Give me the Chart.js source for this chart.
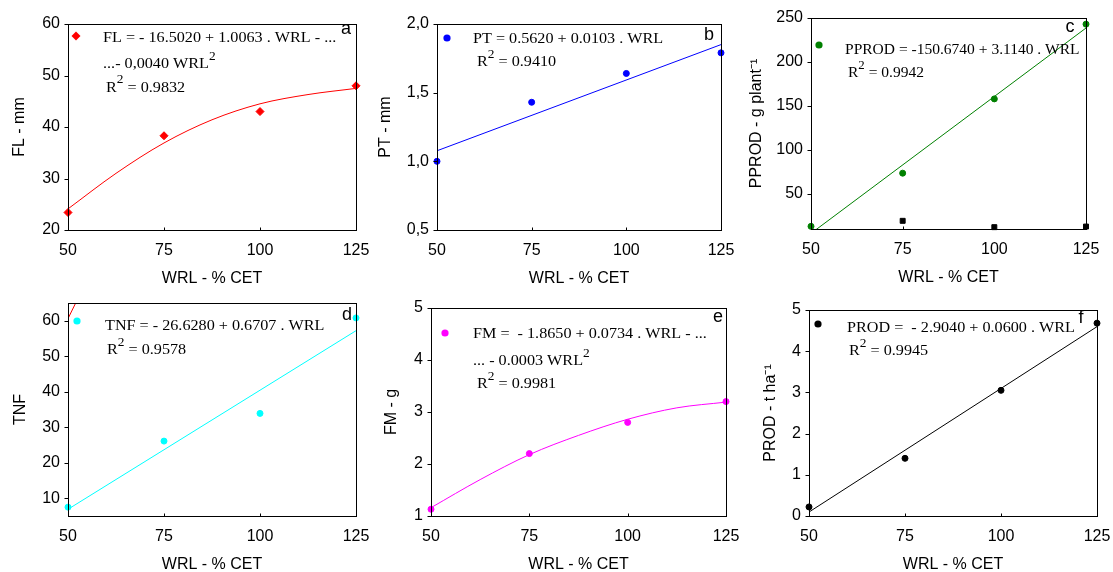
<!DOCTYPE html>
<html lang="en">
<head>
<meta charset="UTF-8">
<title>WRL response panels</title>
<script src="https://cdn.jsdelivr.net/npm/chart.js"></script>
<style>
  body { margin: 0; background: #fff; width: 1113px; height: 572px; overflow: hidden; position: relative; }
  .panel { position: absolute; }
</style>
</head>
<body>
<div class="panel" id="pa"><canvas></canvas></div>
<div class="panel" id="pb"><canvas></canvas></div>
<div class="panel" id="pc"><canvas></canvas></div>
<div class="panel" id="pd"><canvas></canvas></div>
<div class="panel" id="pe"><canvas></canvas></div>
<div class="panel" id="pf"><canvas></canvas></div>
<script>
// ---- data ----
const wrl = [50, 75, 100, 125];
const xTicks = [50, 75, 100, 125];
const lineX = [50, 125];
const curveX = [50, 62.5, 75, 87.5, 100, 112.5, 125];

const flValues = [23.4, 38.3, 43.0, 48.0];
const flCurve = [24.1, 31.0, 36.9, 41.4, 44.5, 46.3, 47.5];
const flTicks = [20, 30, 40, 50, 60];

const ptValues = [1.0, 1.43, 1.64, 1.79];
const ptLine = [1.077, 1.850];
const ptTicks = [0.5, 1.0, 1.5, 2.0];

const pprodValues = [13, 73.5, 158, 243];
const pprodOtherX = [75, 100, 125];
const pprodOther = [19.3, 12.1, 12.8];
const pprodLine = [5.0, 238.6];
const pprodTicks = [50, 100, 150, 200, 250];

const tnfValues = [7.5, 26.1, 33.9, 60.8];
const tnfLine = [6.9, 57.2];
const tnfStrayX = [50, 53];
const tnfStray = [60.6, 67.2];
const tnfTicks = [10, 20, 30, 40, 50, 60];

const fmValues = [1.13, 2.2, 2.8, 3.2];
const fmCurve = [1.16, 1.70, 2.18, 2.55, 2.86, 3.08, 3.19];
const fmTicks = [1, 2, 3, 4, 5];

const prodValues = [0.22, 1.4, 3.05, 4.68];
const prodLine = [0.096, 4.596];
const prodTicks = [0, 1, 2, 3, 4, 5];

// ---- helpers ----
const SANS = '"Liberation Sans", Arial, sans-serif';
const SERIF = '"Liberation Serif", "Times New Roman", serif';
const PAD_T = 20, PAD_R = 26, XH = 60;
const EQ_SIZE = 14.5;

const pts = (xs, ys) => xs.map((x, i) => ({ x: x, y: ys[i] }));

function points(xs, ys, color, style, r) {
  return { data: pts(xs, ys), backgroundColor: color, borderColor: color, borderWidth: 1,
           pointStyle: style || 'circle', pointRadius: r || 3, showLine: false, clip: false };
}
function trend(xs, ys, color, smooth) {
  return { data: pts(xs, ys), borderColor: color, borderWidth: 1, pointRadius: 0,
           showLine: true, fill: false, tension: smooth ? 0.4 : 0,
           cubicInterpolationMode: smooth ? 'monotone' : 'default' };
}

// equation text: Times, a bit wider than normal as in the figure
function drawRich(ctx, x, y, parts, stretch) {
  ctx.save();
  ctx.translate(x, y);
  ctx.scale(stretch, 1);
  let cx = 0;
  parts.forEach(p => {
    const sup = Array.isArray(p);
    const t = sup ? p[0] : p;
    ctx.font = (sup ? 12 : EQ_SIZE) + 'px ' + SERIF;
    ctx.fillText(t, cx, sup ? -8.5 : 0);
    cx += ctx.measureText(t).width;
  });
  ctx.restore();
}

function marker(ctx, m, x, y) {
  ctx.fillStyle = m.color;
  ctx.beginPath();
  if (m.style === 'rectRot') {
    const r = 4.5;
    ctx.moveTo(x, y - r); ctx.lineTo(x + r, y); ctx.lineTo(x, y + r); ctx.lineTo(x - r, y);
    ctx.closePath();
  } else {
    ctx.arc(x, y, 3.6, 0, Math.PI * 2);
  }
  ctx.fill();
}

function makeDecor(p) {
  return {
    id: 'decor',
    afterDatasetsDraw(chart) {
      const { ctx, chartArea: a, scales } = chart;
      const L = Math.round(a.left) + 0.5, T = Math.round(a.top) + 0.5;
      const R = Math.round(a.right) + 0.5, B = Math.round(a.bottom) + 0.5;
      ctx.save();
      ctx.strokeStyle = '#000';
      ctx.lineWidth = 1;
      ctx.strokeRect(L, T, R - L, B - T);
      // small tick marks: y outward, x inward
      ctx.beginPath();
      p.yTicks.forEach(v => {
        const y = Math.round(scales.y.getPixelForValue(v)) + 0.5;
        ctx.moveTo(L - 4, y); ctx.lineTo(L, y);
      });
      xTicks.forEach(v => {
        const x = Math.round(scales.x.getPixelForValue(v)) + 0.5;
        ctx.moveTo(x, B); ctx.lineTo(x, B - 3);
      });
      ctx.stroke();
      marker(ctx, p.marker, a.left + p.marker.dx, a.top + p.marker.dy);
      ctx.fillStyle = '#000';
      ctx.textAlign = 'left';
      ctx.textBaseline = 'alphabetic';
      p.lines.forEach(l => drawRich(ctx, a.left + l.dx, a.top + l.dy, l.parts, p.stretch || 1.115));
      ctx.font = '18px ' + SANS;
      ctx.textAlign = 'center';
      ctx.textBaseline = 'middle';
      ctx.fillText(p.letter.t, a.right - p.letter.dx, a.top + p.letter.dy);
      ctx.restore();
    }
  };
}

function makePanel(p) {
  const div = document.getElementById(p.id);
  div.style.left = (p.L - p.yw) + 'px';
  div.style.top = (p.T - PAD_T) + 'px';
  div.style.width = (p.R - p.L + p.yw + PAD_R) + 'px';
  div.style.height = (p.B - p.T + PAD_T + XH) + 'px';
  const tickFont = { family: SANS, size: 16 };
  new Chart(div.querySelector('canvas'), {
    type: 'scatter',
    data: { datasets: p.datasets },
    options: {
      responsive: true,
      maintainAspectRatio: false,
      animation: false,
      layout: { padding: { top: PAD_T, right: PAD_R, left: 0, bottom: 0 } },
      plugins: { legend: { display: false }, tooltip: { enabled: false } },
      scales: {
        x: {
          type: 'linear', min: 50, max: 125,
          grid: { display: false, drawTicks: false }, border: { display: false },
          afterBuildTicks: s => { s.ticks = xTicks.map(v => ({ value: v })); },
          afterFit: s => { s.height = XH; },
          ticks: { color: '#000', font: tickFont, padding: 11, maxRotation: 0, autoSkip: false },
          title: { display: true, text: 'WRL - % CET', color: '#000', font: tickFont, padding: { top: 0, bottom: 2 } }
        },
        y: {
          type: 'linear', min: p.yMin, max: p.yMax,
          grid: { display: false, drawTicks: false }, border: { display: false },
          afterBuildTicks: s => { s.ticks = p.yTicks.map(v => ({ value: v })); },
          afterFit: s => { s.width = p.yw; },
          ticks: { color: '#000', font: tickFont, padding: 8, autoSkip: false, callback: p.fmt || (v => v) },
          title: { display: true, text: p.yTitle, color: '#000', font: tickFont, padding: { top: 4, bottom: 0 } }
        }
      }
    },
    plugins: [makeDecor(p)]
  });
}

const R2 = v => ({ parts: ['R', ['2'], ' = ' + v] });

const panels = [
  { id: 'pa', L: 68, T: 24, R: 356, B: 230, yw: 62, yMin: 20, yMax: 60, yTicks: flTicks, yTitle: 'FL - mm',
    datasets: [points(wrl, flValues, '#ff0000', 'rectRot', 4), trend(curveX, flCurve, '#ff0000', true)],
    marker: { style: 'rectRot', color: '#ff0000', dx: 8, dy: 12 },
    lines: [ { dx: 35, dy: 18, parts: ['FL = - 16.5020 + 1.0063 . WRL - ...'] },
             { dx: 35, dy: 44, parts: ['...- 0,0040 WRL', ['2']] },
             Object.assign(R2('0.9832'), { dx: 38, dy: 67.5 }) ],
    letter: { t: 'a', dx: 10, dy: 5.5 } },
  { id: 'pb', L: 437, T: 24, R: 721, B: 230, yw: 65, yMin: 0.5, yMax: 2.0, yTicks: ptTicks, yTitle: 'PT - mm',
    fmt: v => v.toFixed(1).replace('.', ','),
    datasets: [points(wrl, ptValues, '#0000ff'), trend(lineX, ptLine, '#0000ff')],
    marker: { style: 'circle', color: '#0000ff', dx: 10, dy: 14 },
    lines: [ { dx: 36, dy: 19, parts: ['PT = 0.5620 + 0.0103 . WRL'] },
             Object.assign(R2('0.9410'), { dx: 40, dy: 42 }) ],
    letter: { t: 'b', dx: 12, dy: 11 } },
  { id: 'pc', L: 811, T: 18, R: 1086, B: 229, yw: 68, yMin: 10, yMax: 250, yTicks: pprodTicks, yTitle: 'PPROD - g plant⁻¹',
    stretch: 1.07,
    datasets: [points(wrl, pprodValues, '#008000'), points(pprodOtherX, pprodOther, '#000000', 'rect', 3.5),
               trend(lineX, pprodLine, '#008000')],
    marker: { style: 'circle', color: '#008000', dx: 8, dy: 27 },
    lines: [ { dx: 34, dy: 36, parts: ['PPROD = -150.6740 + 3.1140 . WRL'] },
             Object.assign(R2('0.9942'), { dx: 37, dy: 59 }) ],
    letter: { t: 'c', dx: 16, dy: 9 } },
  { id: 'pd', L: 68, T: 303, R: 356, B: 516, yw: 61, yMin: 5, yMax: 65, yTicks: tnfTicks, yTitle: 'TNF',
    datasets: [points(wrl, tnfValues, '#00ffff'), trend(lineX, tnfLine, '#00ffff'), trend(tnfStrayX, tnfStray, '#ff0000')],
    marker: { style: 'circle', color: '#00ffff', dx: 9, dy: 18 },
    lines: [ { dx: 37, dy: 27, parts: ['TNF = - 26.6280 + 0.6707 . WRL'] },
             Object.assign(R2('0.9578'), { dx: 39, dy: 51 }) ],
    letter: { t: 'd', dx: 9, dy: 12 } },
  { id: 'pe', L: 431, T: 308, R: 726, B: 516, yw: 53, yMin: 1, yMax: 5, yTicks: fmTicks, yTitle: 'FM - g',
    datasets: [points(wrl, fmValues, '#ff00ff'), trend(curveX, fmCurve, '#ff00ff', true)],
    marker: { style: 'circle', color: '#ff00ff', dx: 14, dy: 25 },
    lines: [ { dx: 42, dy: 30, parts: ['FM =  - 1.8650 + 0.0734 . WRL - ...'] },
             { dx: 42, dy: 57, parts: ['... - 0.0003 WRL', ['2']] },
             Object.assign(R2('0.9981'), { dx: 46, dy: 80 }) ],
    letter: { t: 'e', dx: 8, dy: 9 } },
  { id: 'pf', L: 809, T: 310, R: 1097, B: 516, yw: 52, yMin: 0, yMax: 5, yTicks: prodTicks, yTitle: 'PROD - t ha⁻¹',
    datasets: [points(wrl, prodValues, '#000000'), trend(lineX, prodLine, '#000000')],
    marker: { style: 'circle', color: '#000000', dx: 9, dy: 14 },
    lines: [ { dx: 38, dy: 22, parts: ['PROD =  - 2.9040 + 0.0600 . WRL'] },
             Object.assign(R2('0.9945'), { dx: 40, dy: 45 }) ],
    letter: { t: 'f', dx: 16, dy: 8 } }
];

panels.forEach(makePanel);
</script>
</body>
</html>
